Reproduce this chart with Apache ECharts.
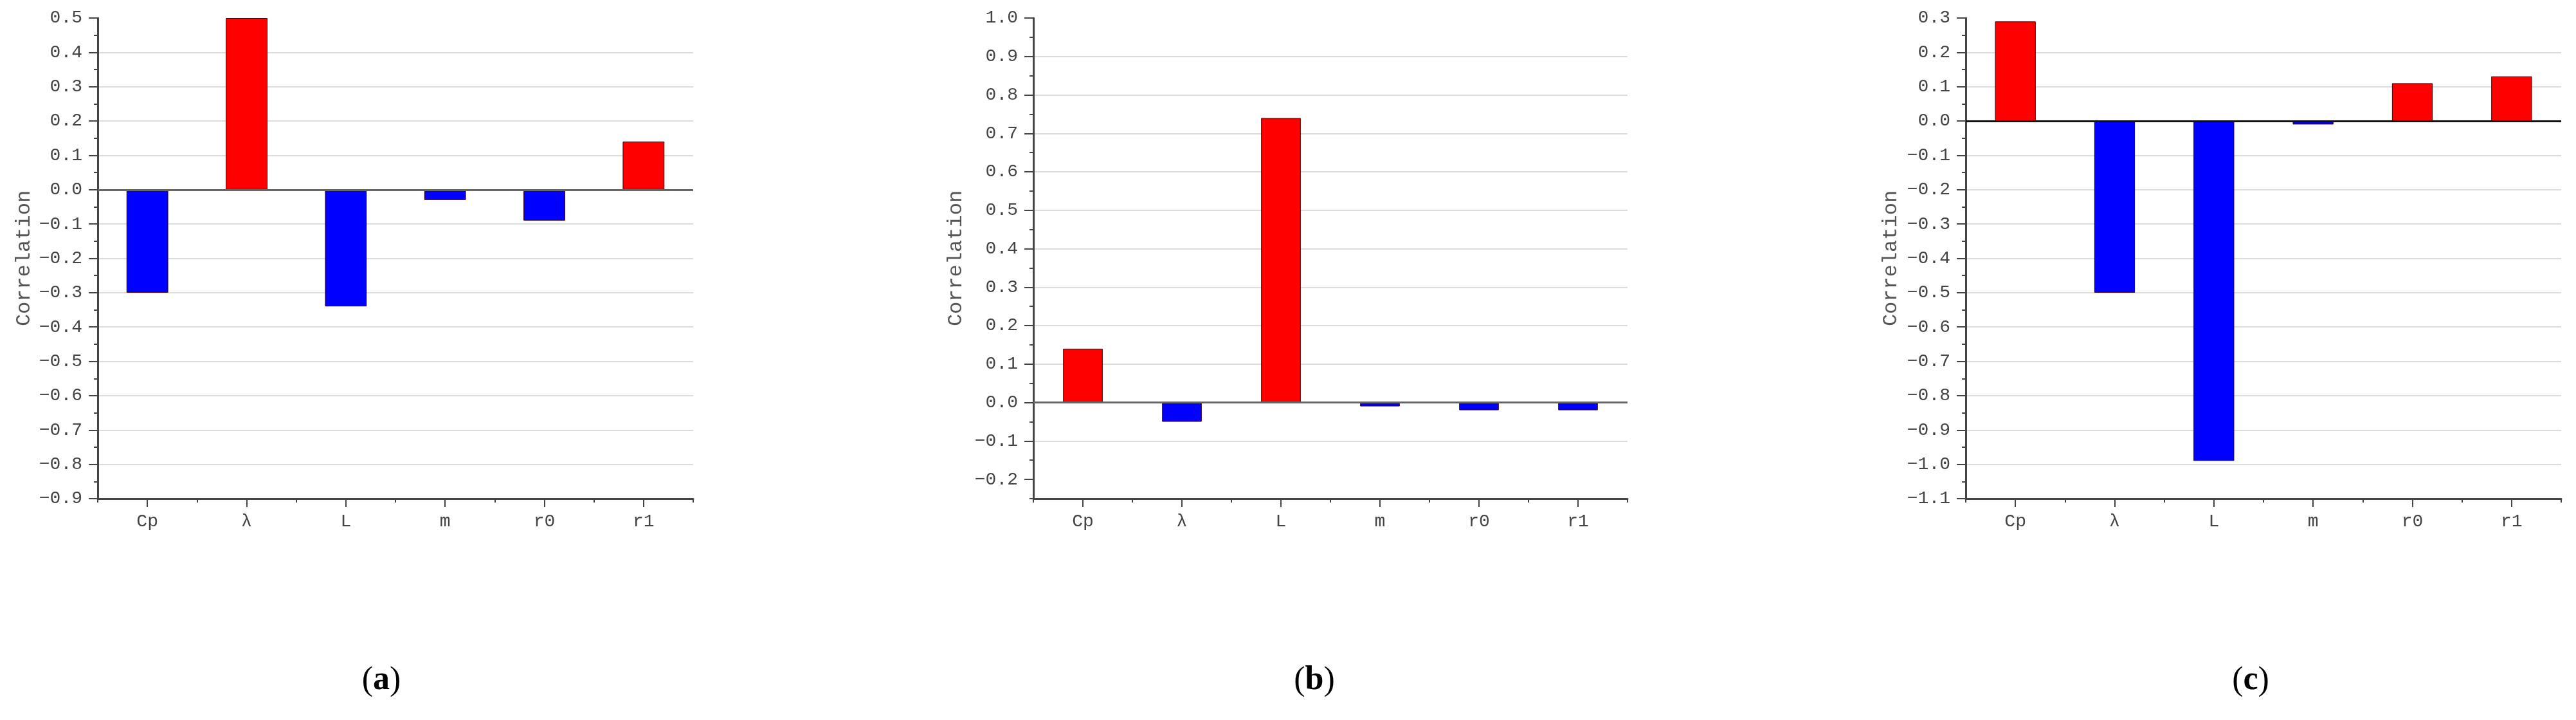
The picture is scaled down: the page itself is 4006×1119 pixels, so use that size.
<!DOCTYPE html>
<html>
<head>
<meta charset="utf-8">
<script src="https://cdn.jsdelivr.net/npm/echarts@6/dist/echarts.min.js"></script>
<style>html,body{margin:0;padding:0;background:#fff;}#main{width:4006px;height:1119px;}</style>
</head>
<body>
<div id="main"></div>
<script>
const categories = ['Cp', 'λ', 'L', 'm', 'r0', 'r1'];
const valuesA = [-0.30, 0.50, -0.34, -0.03, -0.09, 0.14];
const valuesB = [0.14, -0.05, 0.74, -0.01, -0.02, -0.02];
const valuesC = [0.29, -0.50, -0.99, -0.01, 0.11, 0.13];
const ticksA = [-0.9, -0.8, -0.7, -0.6, -0.5, -0.4, -0.3, -0.2, -0.1, 0.0, 0.1, 0.2, 0.3, 0.4, 0.5];
const ticksB = [-0.2, -0.1, 0.0, 0.1, 0.2, 0.3, 0.4, 0.5, 0.6, 0.7, 0.8, 0.9, 1.0];
const ticksC = [-1.1, -1.0, -0.9, -0.8, -0.7, -0.6, -0.5, -0.4, -0.3, -0.2, -0.1, 0.0, 0.1, 0.2, 0.3];
const rangeA = [-0.9, 0.5];
const rangeB = [-0.25, 1.0];
const rangeC = [-1.1, 0.3];
const yName = 'Correlation';
const captions = ['a', 'b', 'c'];

const chart = echarts.init(document.getElementById('main'), null, {renderer: 'canvas'});

const AX = '#444';
const fmt = v => (v < -1e-9 ? '\u2212' : '') + Math.abs(v).toFixed(1);

const panels = [
  {left: 152, width: 926, vals: valuesA, ticks: ticksA, range: rangeA, nameGap: 98, barW: '42%', cap: 593, zero: '#666'},
  {left: 1607, width: 924, vals: valuesB, ticks: ticksB, range: rangeB, nameGap: 104, barW: '40%', cap: 2044, zero: '#666'},
  {left: 3057, width: 926, vals: valuesC, ticks: ticksC, range: rangeC, nameGap: 100, barW: '41%', cap: 3500, zero: '#111'}
];

const grid = [], xAxis = [], yAxis = [], series = [], graphic = [];
panels.forEach((p, i) => {
  grid.push({left: p.left, top: 28, width: p.width, height: 747, containLabel: false, outerBoundsMode: 'none'});
  xAxis.push({
    type: 'category', gridIndex: i, data: categories, position: 'bottom',
    axisLine: {show: true, onZero: false, lineStyle: {color: AX, width: 3}},
    axisTick: {show: true, alignWithLabel: true, length: 13, lineStyle: {color: AX, width: 2}},
    axisLabel: {show: true, margin: 22, fontFamily: 'Liberation Mono', fontSize: 28, color: '#444'},
    splitLine: {show: false}
  });
  xAxis.push({
    type: 'category', gridIndex: i, data: categories, position: 'bottom',
    axisLine: {show: false, onZero: false},
    axisTick: {show: true, alignWithLabel: false, length: 6, lineStyle: {color: AX, width: 2}},
    axisLabel: {show: false},
    splitLine: {show: false}
  });
  yAxis.push({
    type: 'value', gridIndex: i, min: p.range[0], max: p.range[1],
    interval: (i === 1) ? 0.05 : 0.1,
    name: yName, nameLocation: 'middle', nameGap: p.nameGap, nameRotate: 90,
    nameTextStyle: {fontFamily: 'Liberation Mono', fontSize: 32, color: '#555'},
    axisLine: {show: true, onZero: false, lineStyle: {color: AX, width: 3}},
    axisTick: {show: true, length: 14, customValues: p.ticks, lineStyle: {color: AX, width: 2}},
    axisLabel: {show: true, margin: 24, customValues: p.ticks, formatter: fmt, fontFamily: 'Liberation Mono', fontSize: 28, color: '#444'},
    splitLine: {show: true, showMinLine: false, showMaxLine: false, lineStyle: {color: '#dcdcdc', width: 2}}
  });
  yAxis.push({
    type: 'value', gridIndex: i, min: p.range[0], max: p.range[1], interval: 0.05, position: 'left',
    axisLine: {show: false, onZero: false},
    axisTick: {show: true, length: 6, lineStyle: {color: AX, width: 2}},
    axisLabel: {show: false},
    splitLine: {show: false}
  });
  series.push({
    type: 'bar', xAxisIndex: 2 * i, yAxisIndex: 2 * i, data: p.vals, barWidth: p.barW,
    itemStyle: {
      color: params => params.value >= 0 ? '#ff0000' : '#0000ff',
      borderColor: '#3a0000', borderWidth: 1
    },
    markLine: {
      silent: true, symbol: ['none', 'none'], animation: false,
      label: {show: false},
      lineStyle: {color: p.zero, width: 3, type: 'solid'},
      data: [{yAxis: 0}]
    },
    animation: false
  });
  graphic.push({
    type: 'text', x: p.cap, y: 1058,
    style: {
      text: '{n|(}{b|' + captions[i] + '}{n|)}',
      textAlign: 'center', textVerticalAlign: 'middle',
      rich: {
        n: {fontFamily: 'Liberation Serif', fontSize: 52, fill: '#000'},
        b: {fontFamily: 'Liberation Serif', fontSize: 52, fontWeight: 'bold', fill: '#000'}
      }
    }
  });
});

chart.setOption({
  animation: false,
  backgroundColor: '#ffffff',
  grid, xAxis, yAxis, series, graphic
});
</script>
</body>
</html>
